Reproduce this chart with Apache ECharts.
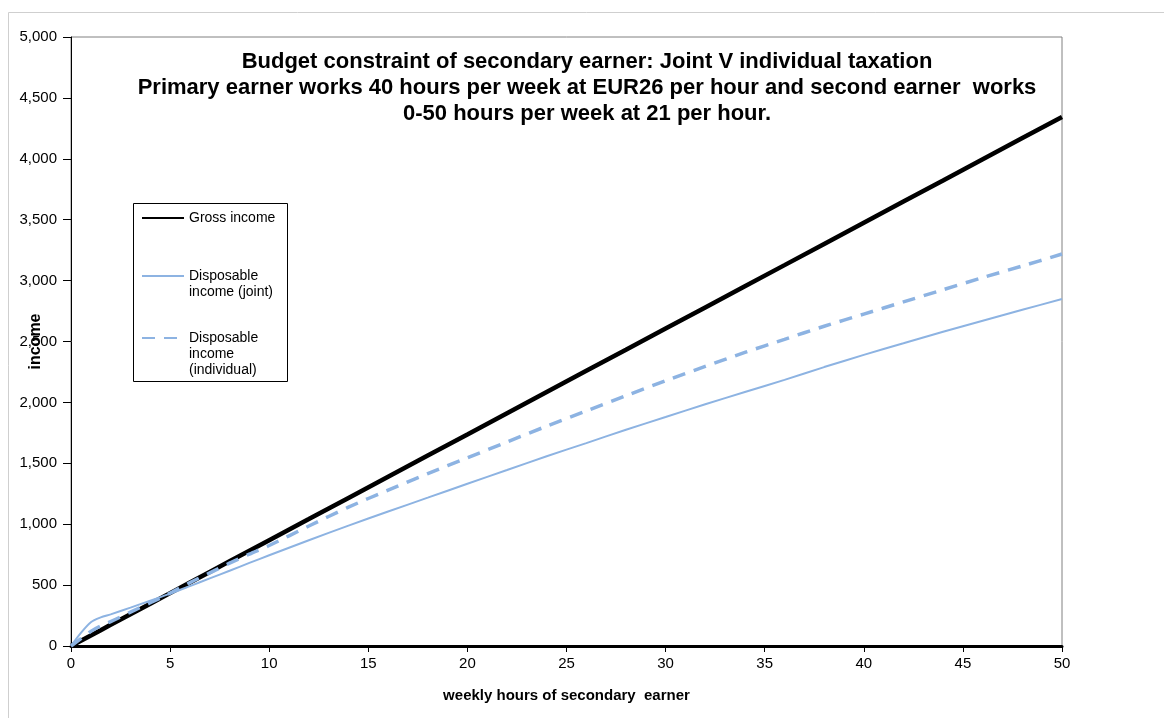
<!DOCTYPE html>
<html>
<head>
<meta charset="utf-8">
<script src="https://cdn.jsdelivr.net/npm/echarts@6/dist/echarts.min.js"></script>
<style>
  html, body { margin: 0; padding: 0; background: #fff; }
  #chart { width: 1164px; height: 718px; }
</style>
</head>
<body>
<div id="chart"></div>
<script>
// Weekly hours worked by the secondary earner
const hours = [0, 0.5, 1, 1.5, 2, 3, 4, 5, 6, 7, 8, 9, 10, 12, 14, 16, 18, 20, 22, 24, 26, 28, 30, 32, 34, 36, 38, 40, 42, 44, 46, 48, 50];

// Gross income of the household
const grossIncome = [0, 43, 87, 130, 174, 261, 347, 434, 521, 608, 695, 782, 869, 1042, 1216, 1390, 1564, 1737, 1911, 2085, 2259, 2432, 2606, 2780, 2954, 3127, 3301, 3475, 3649, 3822, 3996, 4170, 4343];

// Disposable income under joint taxation
const dispJoint = [0, 107, 195, 235, 260, 315, 372, 430, 492, 555, 618, 682, 745, 868, 988, 1104, 1218, 1332, 1445, 1558, 1666, 1775, 1880, 1985, 2085, 2185, 2290, 2390, 2485, 2580, 2670, 2760, 2849];

// Disposable income under individual taxation
const dispIndividual = [0, 60, 120, 165, 200, 278, 355, 434, 520, 600, 680, 755, 825, 985, 1140, 1280, 1415, 1545, 1675, 1805, 1930, 2055, 2178, 2295, 2410, 2518, 2625, 2725, 2825, 2925, 3025, 3120, 3218];

const seriesNames = ['Gross income', 'Disposable income (joint)', 'Disposable income (individual)'];
const legendLabels = ['Gross income', '\nDisposable\nincome (joint)', '\n\nDisposable\nincome\n(individual)'];

const titleLines = [
  'Budget constraint of secondary earner: Joint V individual taxation',
  'Primary earner works 40 hours per week at EUR26 per hour and second earner  works',
  '0-50 hours per week at 21 per hour.'
];

const xTitle = 'weekly hours of secondary  earner';
const yTitle = 'income';

const lightBlue = '#8db3e2';
const font = 'Liberation Sans, Arial, sans-serif';

function pairs(ys) {
  return hours.map((h, i) => [h, ys[i]]);
}

const chart = echarts.init(document.getElementById('chart'), null, { renderer: 'canvas' });

// One legend block per entry so the sample line sits beside the first text row
function legendFor(idx, top) {
  return {
    data: [seriesNames[idx]],
    left: 141,
    top: top,
    orient: 'vertical',
    padding: 0,
    itemWidth: 42,
    itemHeight: 10,
    itemGap: 0,
    z: 20,
    selectedMode: false,
    itemStyle: { opacity: 0 },
    formatter: () => legendLabels[idx],
    textStyle: { fontFamily: font, fontSize: 14, color: '#000', lineHeight: 16 }
  };
}

chart.setOption({
  animation: false,
  backgroundColor: '#fff',
  title: {
    text: titleLines.join('\n'),
    left: 582,
    top: 44,
    textAlign: 'center',
    textStyle: { fontFamily: font, fontSize: 22, fontWeight: 'bold', color: '#000', lineHeight: 26 }
  },
  graphic: [
    { type: 'rect', silent: true, z: -10, shape: { x: 8.5, y: 12.5, width: 1300, height: 800 },
      style: { fill: 'none', stroke: '#cfcfcf', lineWidth: 1 } },
    { type: 'rect', silent: true, z: 10, shape: { x: 133.5, y: 203.5, width: 154, height: 178 },
      style: { fill: '#fff', stroke: '#000', lineWidth: 1 } }
  ],
  legend: [legendFor(0, 210), legendFor(1, 252), legendFor(2, 298)],
  grid: {
    left: 71, right: 102, top: 37, bottom: 72,
    containLabel: false, outerBoundsMode: 'none',
    show: true, borderColor: '#808080', borderWidth: 1, backgroundColor: 'transparent'
  },
  xAxis: {
    type: 'value', min: 0, max: 50, interval: 5,
    name: xTitle, nameLocation: 'middle', nameGap: 42, nameMoveOverlap: false,
    nameTextStyle: { fontFamily: font, fontSize: 15, fontWeight: 'bold', color: '#000' },
    axisLine: { show: true, onZero: false, lineStyle: { color: '#000', width: 3 } },
    axisTick: { show: true, inside: false, length: 6, lineStyle: { color: '#000', width: 1 } },
    axisLabel: { fontFamily: font, fontSize: 15, color: '#000', margin: 10 },
    splitLine: { show: false }
  },
  yAxis: {
    type: 'value', min: 0, max: 5000, interval: 500,
    name: yTitle, nameLocation: 'middle', nameGap: 27, nameRotate: 90, nameMoveOverlap: false,
    nameTextStyle: { fontFamily: font, fontSize: 16, fontWeight: 'bold', color: '#000' },
    axisLine: { show: true, lineStyle: { color: '#000', width: 1 } },
    axisTick: { show: true, inside: false, length: 8, lineStyle: { color: '#000', width: 1 } },
    axisLabel: {
      fontFamily: font, fontSize: 15, color: '#000', margin: 14,
      formatter: v => v.toLocaleString('en-US')
    },
    splitLine: { show: false }
  },
  series: [
    {
      name: seriesNames[0], type: 'line', data: pairs(grossIncome),
      symbol: 'none', smooth: false, z: 3,
      lineStyle: { color: '#000', width: 4.5 }, itemStyle: { color: '#000' }
    },
    {
      name: seriesNames[1], type: 'line', data: pairs(dispJoint),
      symbol: 'none', smooth: 0.3, z: 4,
      lineStyle: { color: lightBlue, width: 2 }, itemStyle: { color: lightBlue }
    },
    {
      name: seriesNames[2], type: 'line', data: pairs(dispIndividual),
      symbol: 'none', smooth: 0.3, z: 5,
      lineStyle: { color: lightBlue, width: 3.5, type: [13, 9] }, itemStyle: { color: lightBlue }
    }
  ]
});
</script>
</body>
</html>
